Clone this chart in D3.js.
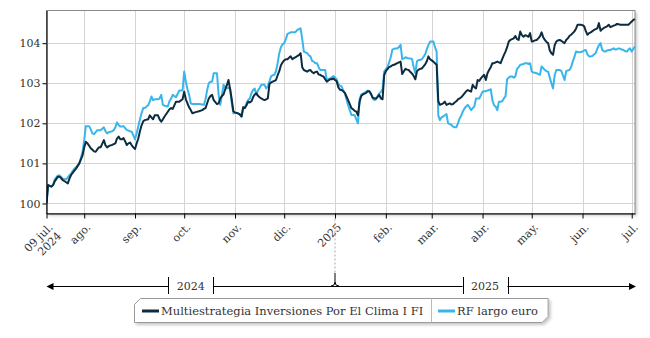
<!DOCTYPE html>
<html><head><meta charset="utf-8">
<script src="https://cdn.jsdelivr.net/npm/d3@7"></script>
<style>body{margin:0;background:#fff}svg{display:block}text{font-family:"DejaVu Serif",serif;fill:#333}</style>
</head><body><svg id="c" width="650" height="338"></svg>
<script>
const dates = [
"2024-07-09","2024-07-10","2024-07-12","2024-07-13","2024-07-14","2024-07-16","2024-07-17","2024-07-19","2024-07-21","2024-07-22",
"2024-07-23","2024-07-24","2024-07-26","2024-07-27","2024-07-29","2024-07-31","2024-08-01","2024-08-02","2024-08-03","2024-08-04",
"2024-08-05","2024-08-06","2024-08-07","2024-08-08","2024-08-09","2024-08-10","2024-08-11","2024-08-13","2024-08-14","2024-08-15",
"2024-08-16","2024-08-17","2024-08-18","2024-08-19","2024-08-20","2024-08-21","2024-08-22","2024-08-23","2024-08-24","2024-08-25",
"2024-08-26","2024-08-27","2024-08-28","2024-08-29","2024-08-30","2024-08-31","2024-09-01","2024-09-02","2024-09-03","2024-09-04",
"2024-09-05","2024-09-06","2024-09-07","2024-09-09","2024-09-10","2024-09-11","2024-09-12","2024-09-13","2024-09-15","2024-09-16",
"2024-09-17","2024-09-18","2024-09-19","2024-09-21","2024-09-22","2024-09-23","2024-09-24","2024-09-26","2024-09-28","2024-09-30",
"2024-10-01","2024-10-02","2024-10-03","2024-10-04","2024-10-05","2024-10-06","2024-10-08","2024-10-10","2024-10-12","2024-10-13",
"2024-10-14","2024-10-15","2024-10-16","2024-10-17","2024-10-18","2024-10-19","2024-10-21","2024-10-22","2024-10-23","2024-10-24",
"2024-10-25","2024-10-26","2024-10-27","2024-10-28","2024-10-29","2024-10-30","2024-10-31","2024-11-01","2024-11-02","2024-11-03",
"2024-11-04","2024-11-05","2024-11-06","2024-11-07","2024-11-08","2024-11-09","2024-11-10","2024-11-11","2024-11-12","2024-11-13",
"2024-11-14","2024-11-15","2024-11-16","2024-11-17","2024-11-18","2024-11-19","2024-11-20","2024-11-21","2024-11-22","2024-11-23",
"2024-11-24","2024-11-25","2024-11-26","2024-11-27","2024-11-28","2024-11-29","2024-11-30","2024-12-01","2024-12-02","2024-12-03",
"2024-12-04","2024-12-05","2024-12-06","2024-12-07","2024-12-08","2024-12-09","2024-12-10","2024-12-11","2024-12-12","2024-12-13",
"2024-12-15","2024-12-16","2024-12-17","2024-12-18","2024-12-19","2024-12-20","2024-12-21","2024-12-22","2024-12-23","2024-12-24",
"2024-12-25","2024-12-26","2024-12-27","2024-12-28","2024-12-29","2024-12-30","2024-12-31","2025-01-01","2025-01-02",
"2025-01-03","2025-01-04","2025-01-05","2025-01-06","2025-01-07","2025-01-08","2025-01-09","2025-01-10","2025-01-11","2025-01-12",
"2025-01-13","2025-01-14","2025-01-15","2025-01-16","2025-01-17","2025-01-18","2025-01-19","2025-01-20","2025-01-21","2025-01-22",
"2025-01-23","2025-01-24","2025-01-25","2025-01-26","2025-01-27","2025-01-28","2025-01-29","2025-01-30","2025-01-31",
"2025-02-01","2025-02-02","2025-02-03","2025-02-04","2025-02-05","2025-02-06","2025-02-07","2025-02-08","2025-02-09","2025-02-10",
"2025-02-11","2025-02-12","2025-02-13","2025-02-14","2025-02-15","2025-02-16","2025-02-17","2025-02-18","2025-02-19","2025-02-20",
"2025-02-21","2025-02-22","2025-02-23","2025-02-24","2025-02-25","2025-02-26","2025-02-27","2025-02-28",
"2025-03-01","2025-03-02","2025-03-03","2025-03-04","2025-03-05","2025-03-06","2025-03-07","2025-03-08","2025-03-09","2025-03-10",
"2025-03-11","2025-03-12","2025-03-13","2025-03-14","2025-03-15","2025-03-16","2025-03-17","2025-03-18","2025-03-19","2025-03-20",
"2025-03-21","2025-03-22","2025-03-23","2025-03-24","2025-03-25","2025-03-26","2025-03-27","2025-03-28","2025-03-29","2025-03-30","2025-03-31",
"2025-04-01","2025-04-02","2025-04-03","2025-04-04","2025-04-05","2025-04-06","2025-04-07","2025-04-08","2025-04-09","2025-04-10",
"2025-04-11","2025-04-12","2025-04-13","2025-04-14","2025-04-15","2025-04-16","2025-04-17","2025-04-18","2025-04-19","2025-04-20",
"2025-04-21","2025-04-22","2025-04-23","2025-04-24","2025-04-25","2025-04-26","2025-04-27","2025-04-28","2025-04-29","2025-04-30",
"2025-05-01","2025-05-02","2025-05-03","2025-05-04","2025-05-05","2025-05-06","2025-05-07","2025-05-08","2025-05-09","2025-05-10",
"2025-05-11","2025-05-12","2025-05-13","2025-05-14","2025-05-15","2025-05-16","2025-05-17","2025-05-18","2025-05-19","2025-05-20",
"2025-05-21","2025-05-22","2025-05-23","2025-05-24","2025-05-25","2025-05-26","2025-05-27","2025-05-28","2025-05-29","2025-05-30","2025-05-31",
"2025-06-01","2025-06-02","2025-06-03","2025-06-04","2025-06-05","2025-06-06","2025-06-07","2025-06-08","2025-06-09","2025-06-10",
"2025-06-11","2025-06-12","2025-06-13","2025-06-14","2025-06-15","2025-06-16","2025-06-17","2025-06-18","2025-06-19","2025-06-20",
"2025-06-21","2025-06-22","2025-06-23","2025-06-24","2025-06-25","2025-06-26","2025-06-27","2025-06-28","2025-06-29","2025-06-30",
"2025-07-01","2025-07-02","2025-07-03"
];
const fundValues = [
100.00,100.46,100.42,100.46,100.55,100.67,100.67,100.58,100.53,100.50,
100.62,100.71,100.82,100.87,101.00,101.20,101.40,101.54,101.50,101.44,
101.38,101.34,101.30,101.29,101.35,101.40,101.40,101.58,101.45,101.40,
101.43,101.45,101.46,101.48,101.50,101.62,101.67,101.60,101.60,101.63,
101.55,101.46,101.50,101.52,101.45,101.40,101.36,101.50,101.62,101.80,
101.95,102.05,102.08,102.10,102.20,102.15,102.10,102.20,102.20,102.10,
102.04,102.10,102.17,102.29,102.35,102.38,102.36,102.54,102.54,102.60,
102.79,102.60,102.50,102.40,102.33,102.25,102.28,102.30,102.33,102.36,
102.38,102.50,102.62,102.68,102.71,102.58,102.48,102.50,102.62,102.68,
102.72,102.85,102.95,103.08,102.85,102.60,102.30,102.27,102.26,102.24,
102.22,102.17,102.40,102.38,102.45,102.54,102.52,102.55,102.65,102.72,
102.75,102.69,102.65,102.62,102.60,102.58,102.60,102.62,102.98,103.02,
103.04,103.06,103.08,103.20,103.30,103.45,103.52,103.57,103.60,103.60,
103.64,103.67,103.60,103.63,103.65,103.68,103.70,103.75,103.40,103.33,
103.29,103.32,103.33,103.28,103.25,103.28,103.29,103.22,103.21,103.18,
103.17,103.10,103.04,103.07,103.10,103.10,103.12,103.08,103.05,
102.90,102.84,102.83,102.80,102.76,102.67,102.58,102.48,102.38,102.35,
102.31,102.29,102.20,102.54,102.68,102.72,102.74,102.76,102.80,102.80,
102.73,102.64,102.62,102.62,102.66,102.71,102.62,102.60,103.20,
103.30,103.35,103.40,103.42,103.45,103.46,103.48,103.50,103.52,103.54,
103.23,103.30,103.36,103.34,103.33,103.28,103.24,103.18,103.10,103.30,
103.34,103.36,103.37,103.42,103.47,103.55,103.67,103.60,
103.57,103.54,103.50,103.46,102.55,102.46,102.48,102.50,102.54,102.46,
102.48,102.50,102.47,102.48,102.52,102.55,102.60,102.62,102.65,102.70,
102.75,102.80,102.83,102.81,102.79,102.96,102.90,102.87,103.08,103.06,103.12,
103.17,103.21,103.08,103.25,103.33,103.40,103.50,103.50,103.52,103.54,
103.52,103.50,103.60,103.70,103.79,103.90,104.04,104.08,104.10,104.12,
104.18,104.10,104.08,104.29,104.20,104.16,104.20,104.18,104.16,104.25,
104.04,104.05,104.07,104.08,104.12,104.17,104.27,104.15,104.08,104.03,
104.00,103.82,103.75,103.71,103.95,104.04,104.07,104.08,104.06,104.03,
104.00,104.08,104.12,104.18,104.21,104.25,104.29,104.36,104.46,104.46,104.46,
104.45,104.42,104.30,104.21,104.25,104.27,104.30,104.33,104.35,104.37,
104.50,104.31,104.35,104.38,104.40,104.42,104.46,104.40,104.42,104.44,
104.45,104.48,104.47,104.46,104.46,104.46,104.46,104.46,104.46,104.50,
104.54,104.58,104.60
];
const benchValues = [
100.00,100.46,100.42,100.46,100.60,100.70,100.70,100.62,100.60,100.65,
100.70,100.75,100.87,100.90,101.00,101.29,101.58,101.93,101.93,101.93,
101.85,101.75,101.73,101.78,101.83,101.83,101.83,101.90,101.80,101.75,
101.78,101.79,101.80,101.83,101.90,102.02,101.96,101.92,101.92,101.93,
101.88,101.83,101.82,101.80,101.79,101.70,101.60,101.75,101.92,102.10,
102.25,102.38,102.38,102.45,102.54,102.67,102.58,102.60,102.60,102.62,
102.71,102.46,102.44,102.42,102.55,102.62,102.71,102.65,102.82,102.82,
103.29,103.04,102.85,102.71,102.50,102.48,102.48,102.48,102.47,102.46,
102.60,102.83,103.00,103.04,103.04,103.25,103.25,102.71,102.46,102.70,
102.96,102.90,102.87,102.88,102.88,102.50,102.25,102.26,102.26,102.25,
102.22,102.17,102.40,102.40,102.50,102.58,102.62,102.75,102.83,102.87,
102.71,102.83,102.88,102.96,102.96,102.96,102.87,102.92,103.05,103.17,
103.20,103.21,103.30,103.50,103.75,103.90,103.97,104.00,104.10,104.23,
104.25,104.27,104.27,104.27,104.28,104.33,104.35,104.37,104.10,103.79,
103.75,103.70,103.67,103.56,103.54,103.50,103.50,103.40,103.33,103.33,
103.33,103.33,103.08,103.10,103.12,103.15,103.18,103.14,103.10,
102.98,102.94,102.92,102.82,102.75,102.60,102.45,102.33,102.21,102.21,
102.20,102.10,102.00,102.60,102.72,102.74,102.76,102.79,102.82,102.78,
102.72,102.62,102.58,102.60,102.68,102.75,102.78,102.85,103.29,
103.35,103.40,103.52,103.65,103.84,103.86,103.87,103.87,103.90,103.96,
103.60,103.62,103.65,103.63,103.62,103.62,103.60,103.40,103.25,103.55,
103.58,103.58,103.60,103.66,103.72,103.85,103.95,104.04,
104.04,104.04,103.90,103.79,102.20,102.08,102.15,102.17,102.20,102.23,
102.00,101.98,101.96,101.92,101.90,101.90,102.00,102.12,102.19,102.30,
102.37,102.42,102.46,102.40,102.33,102.38,102.42,102.62,102.62,102.62,102.70,
102.79,102.80,102.80,102.82,102.83,102.85,102.58,102.45,102.42,102.33,
102.54,102.54,102.55,102.62,102.67,103.10,103.14,103.17,103.17,103.14,
103.17,103.35,103.40,103.46,103.47,103.48,103.50,103.50,103.48,103.50,
103.29,103.27,103.26,103.25,103.23,103.21,103.42,103.38,103.33,103.30,
103.29,103.14,103.00,102.87,103.20,103.33,103.33,103.33,103.31,103.20,
103.08,103.30,103.32,103.33,103.40,103.54,103.65,103.79,103.78,103.77,103.78,
103.79,103.82,103.83,103.72,103.67,103.67,103.68,103.72,103.75,103.86,
103.95,104.00,103.83,103.80,103.79,103.82,103.83,103.83,103.85,103.87,
103.84,103.85,103.87,103.86,103.84,103.83,103.80,103.79,103.84,103.87,
103.79,103.86,103.92
];
const seriesNames = ["Multiestrategia Inversiones Por El Clima I FI", "RF largo euro"];
const seriesColors = ["#0d2c40", "#3ab5ec"];
const monthTicks = ["2024-07-09","2024-08-01","2024-09-01","2024-10-01","2024-11-01","2024-12-01","2025-01-01","2025-02-01","2025-03-01","2025-04-01","2025-05-01","2025-06-01","2025-07-01"];
const monthLabels = ["09 jul.\n2024","ago.","sep.","oct.","nov.","dic.","2025","feb.","mar.","abr.","may.","jun.","jul."];
const yTicks = [100, 101, 102, 103, 104];
const yearLabels = ["2024", "2025"];
const yearBounds = ["2024-07-09", "2025-01-01", "2025-07-03"];

const parse = d3.timeParse("%Y-%m-%d");
const svg = d3.select("#c");
const L = 46.5, R = 635, T = 10.5, B = 213.5;
const FS = 11, LFS = 11.5;
const x = d3.scaleTime().domain([parse(dates[0]), parse(dates[dates.length - 1])]).range([L, R]);
const y = d3.scaleLinear().domain([99.75, 104.815]).range([B, T]);

const defs = svg.append("defs");
const f = defs.append("filter").attr("id", "sh").attr("x", "-5%").attr("y", "-5%").attr("width", "115%").attr("height", "130%");
f.append("feDropShadow").attr("dx", 2).attr("dy", 2).attr("stdDeviation", 1.5).attr("flood-color", "#000").attr("flood-opacity", 0.22);
defs.append("clipPath").attr("id", "clip").append("rect").attr("x", L).attr("y", T - 2).attr("width", R - L + 2).attr("height", B - T + 2);

svg.append("rect").attr("x", L).attr("y", T).attr("width", R - L).attr("height", B - T).attr("fill", "#fff").attr("filter", "url(#sh)");

const grid = svg.append("g").attr("stroke", "#d4d4d4").attr("stroke-width", 1);
grid.selectAll(".h").data(yTicks).join("line").attr("x1", L).attr("x2", R)
  .attr("y1", d => Math.round(y(d)) + 0.5).attr("y2", d => Math.round(y(d)) + 0.5);
grid.selectAll(".v").data(monthTicks).join("line")
  .attr("x1", d => Math.round(x(parse(d))) + 0.5).attr("x2", d => Math.round(x(parse(d))) + 0.5)
  .attr("y1", T).attr("y2", B);

svg.append("rect").attr("x", L).attr("y", T).attr("width", R - L).attr("height", B - T)
  .attr("fill", "none").attr("stroke", "#8a8a8a");

const series = [fundValues, benchValues];
const line = d3.line().x((d, i) => x(parse(dates[i]))).y(d => y(d));
const lg = svg.append("g").attr("clip-path", "url(#clip)");
[1, 0].forEach(k => {
  lg.append("path").datum(series[k]).attr("d", line).attr("fill", "none")
    .attr("stroke", seriesColors[k]).attr("stroke-width", 2).attr("stroke-linejoin", "round");
});

const ya = svg.append("g").attr("transform", `translate(${L},0)`)
  .call(d3.axisLeft(y).tickValues(yTicks).tickSize(4).tickPadding(2).tickSizeOuter(0).tickFormat(d3.format("d")));
ya.select(".domain").attr("stroke", "#000");
ya.selectAll(".tick line").attr("stroke", "#000");
ya.selectAll(".tick text").attr("font-size", FS).attr("font-family", "DejaVu Serif").attr("fill", "#333");

const xa = svg.append("g").attr("transform", `translate(0,${B})`)
  .call(d3.axisBottom(x).tickValues(monthTicks.map(parse)).tickSize(5).tickSizeOuter(0).tickFormat(""));
xa.select(".domain").attr("stroke", "#000");
xa.selectAll(".tick line").attr("stroke", "#000");

const xl = svg.append("g");
monthTicks.forEach((d, i) => {
  const px = x(parse(d));
  const t = xl.append("text").attr("transform", `translate(${px + 7},${228}) rotate(-45)`)
    .attr("text-anchor", "end").attr("font-size", FS);
  monthLabels[i].split("\n").forEach((s, j) => {
    t.append("tspan").attr("x", 0).attr("dy", j === 0 ? 0 : "1.1em").text(s);
  });
});

// year band axis
const ry = 286;
const yb = yearBounds.map(d => x(parse(d)));
const ya2 = svg.append("g");
ya2.append("line").attr("x1", yb[1]).attr("x2", yb[1]).attr("y1", B + 5).attr("y2", 273)
  .attr("stroke", "#aaa").attr("stroke-dasharray", "2,2");
ya2.append("path").attr("d", `M${yb[1]},273 L${yb[1]},282 Q${yb[1]},${ry} ${yb[1] - 4},${ry} M${yb[1]},282 Q${yb[1]},${ry} ${yb[1] + 4},${ry}`)
  .attr("fill", "none").attr("stroke", "#000");
const gaps = [];
yearLabels.forEach((lab, i) => {
  const mx = (yb[i] + yb[i + 1]) / 2;
  ya2.append("text").attr("x", mx).attr("y", 290).attr("text-anchor", "middle").attr("font-size", FS).text(lab);
  gaps.push([mx - 22.5, mx + 22.5]);
});
const segs = [[yb[0] + 5, gaps[0][0]], [gaps[0][1], gaps[1][0]], [gaps[1][1], yb[2] - 5]];
segs.forEach(s => ya2.append("line").attr("x1", s[0]).attr("x2", s[1]).attr("y1", ry + 0.5).attr("y2", ry + 0.5).attr("stroke", "#000"));
gaps.forEach(g => g.forEach(gx => ya2.append("line").attr("x1", Math.round(gx) + 0.5).attr("x2", Math.round(gx) + 0.5)
  .attr("y1", 277).attr("y2", 294).attr("stroke", "#000")));
ya2.append("path").attr("d", `M${yb[0]},${ry + 0.5} l7,-3.5 l0,7 z`).attr("fill", "#000");
ya2.append("path").attr("d", `M${yb[2] + 1},${ry + 0.5} l-7,-3.5 l0,7 z`).attr("fill", "#000");

// legend
const leg = svg.append("g");
const box = leg.append("path").attr("fill", "#fff").attr("stroke", "#9a9a9a").attr("filter", "url(#sh)");
const items = [];
seriesNames.forEach((n, i) => {
  const g = leg.append("g");
  g.append("line").attr("x1", 0).attr("x2", 17).attr("y1", 0).attr("y2", 0).attr("stroke", seriesColors[i]).attr("stroke-width", 3);
  const t = g.append("text").attr("x", 19).attr("y", 4).attr("font-size", LFS).text(n);
  items.push({ g, w: 19 + t.node().getComputedTextLength() });
});
const padL = 7.5, padMid = 8, padR = 10;
const totalW = padL + items[0].w + padMid * 2 + items[1].w + padR - 1;
const lx0 = Math.round((L + R) / 2 - totalW / 2) + 0.5, ly0 = 298.5, ly1 = 322.5, lx1 = lx0 + totalW, c = 6;
box.attr("d", `M${lx0},${ly0 + c} L${lx0 + c},${ly0} L${lx1},${ly0} L${lx1},${ly1 - c} L${lx1 - c},${ly1} L${lx0},${ly1} Z`);
items[0].g.attr("transform", `translate(${lx0 + padL},311)`);
const divX = Math.round(lx0 + padL + items[0].w + padMid) + 0.5;
leg.append("line").attr("x1", divX).attr("x2", divX).attr("y1", ly0).attr("y2", ly1).attr("stroke", "#bbb");
items[1].g.attr("transform", `translate(${divX + padMid - 1.5},311)`);
</script></body></html>
